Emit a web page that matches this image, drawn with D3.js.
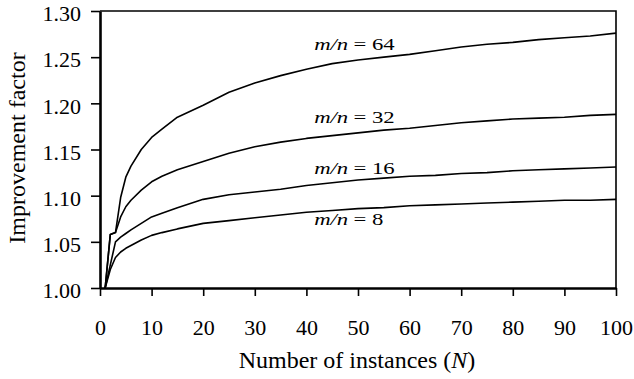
<!DOCTYPE html>
<html>
<head>
<meta charset="utf-8">
<script src="https://cdn.jsdelivr.net/npm/d3@7"></script>
<style>
  body { margin: 0; background: #fff; }
  svg text { fill: #000; }
</style>
</head>
<body>
<svg id="chart"></svg>
<script>
var instances = [1, 2, 3, 4, 5, 6, 8, 10, 12, 15, 20, 25, 30, 35, 40, 45, 50, 55, 60, 65, 70, 75, 80, 85, 90, 95, 100];

var ratios = [64, 32, 16, 8];

var mn64 = [1.000, 1.058, 1.060, 1.098, 1.120, 1.132, 1.150, 1.163, 1.172, 1.185, 1.198, 1.212, 1.222, 1.230, 1.237, 1.243, 1.247, 1.250, 1.253, 1.257, 1.261, 1.264, 1.266, 1.269, 1.271, 1.273, 1.276];
var mn32 = [1.000, 1.058, 1.060, 1.077, 1.088, 1.095, 1.106, 1.115, 1.121, 1.128, 1.137, 1.146, 1.153, 1.158, 1.162, 1.165, 1.168, 1.171, 1.173, 1.176, 1.179, 1.181, 1.183, 1.184, 1.185, 1.187, 1.188];
var mn16 = [1.000, 1.025, 1.050, 1.055, 1.059, 1.063, 1.070, 1.077, 1.081, 1.087, 1.096, 1.101, 1.104, 1.107, 1.111, 1.114, 1.117, 1.119, 1.121, 1.122, 1.124, 1.125, 1.127, 1.128, 1.129, 1.130, 1.131];
var mn8  = [1.000, 1.020, 1.033, 1.039, 1.043, 1.046, 1.052, 1.057, 1.060, 1.064, 1.070, 1.073, 1.076, 1.079, 1.082, 1.084, 1.086, 1.087, 1.089, 1.090, 1.091, 1.092, 1.093, 1.094, 1.095, 1.095, 1.096];

var xTicks = [0, 10, 20, 30, 40, 50, 60, 70, 80, 90, 100];
var yTicks = [1.00, 1.05, 1.10, 1.15, 1.20, 1.25, 1.30];

// where the m/n labels sit, in data units (N, factor at baseline)
var labelN = 41.5;
var labelY = [1.258, 1.179, 1.1235, 1.068];

var series = [mn64, mn32, mn16, mn8];

var serif = "'Liberation Serif', 'LiberationSerif', 'Times New Roman', 'Nimbus Roman', 'Nimbus Roman No9 L', 'FreeSerif', 'Noto Serif', 'DejaVu Serif', 'Tinos', serif";

var margin = {top: 11, left: 100, right: 18, bottom: 91};
var W = 634, H = 379;
var width = W - margin.left - margin.right;
var height = H - margin.top - margin.bottom;

var svg = d3.select("#chart")
	.attr("width", W)
	.attr("height", H);

var g = svg.append("g")
	.attr("transform", `translate(${margin.left},${margin.top})`);

var x = d3.scaleLinear().domain([0, 100]).range([0, width]);
var y = d3.scaleLinear().domain([1.00, 1.30]).range([height, 0]);

// frame on top and right
g.append("path")
	.attr("d", `M0,0H${width}V${height}`)
	.attr("fill", "none")
	.attr("stroke", "#000")
	.attr("stroke-width", 1.6);

var xAxis = g.append("g")
	.attr("transform", `translate(0,${height})`)
	.call(d3.axisBottom(x).tickValues(xTicks).tickSize(8).tickSizeOuter(0).tickPadding(0));
xAxis.select(".domain").attr("stroke-width", 2.6);
xAxis.selectAll(".tick line").attr("stroke-width", 1.6);
xAxis.selectAll(".tick text").remove();
xAxis.selectAll(".tick").append("text")
	.attr("transform", "translate(0,47) scale(1.1,1)")
	.attr("text-anchor", "middle")
	.attr("font-family", serif)
	.attr("font-size", 20)
	.text(d => d);

var yAxis = g.append("g")
	.call(d3.axisLeft(y).tickValues(yTicks).tickSize(9).tickSizeOuter(0));
yAxis.select(".domain").attr("stroke-width", 2.6);
yAxis.selectAll(".tick line").attr("stroke-width", 1.6);
yAxis.selectAll(".tick text").remove();
yAxis.selectAll(".tick").append("text")
	.attr("transform", "translate(-19,9.7) scale(1.1,1)")
	.attr("text-anchor", "end")
	.attr("font-family", serif)
	.attr("font-size", 20)
	.text(d => d3.format(".2f")(d));

var line = d3.line()
	.x((d, i) => x(instances[i]))
	.y(d => y(d));

g.selectAll(".curve")
	.data(series)
	.join("path")
	.attr("class", "curve")
	.attr("fill", "none")
	.attr("stroke", "#000")
	.attr("stroke-width", 1.6)
	.attr("stroke-linejoin", "round")
	.attr("d", line);

var labels = g.selectAll(".lbl")
	.data(ratios)
	.join("text")
	.attr("class", "lbl")
	.attr("transform", (d, i) => `translate(${x(labelN)},${y(labelY[i])}) scale(1.3,1)`)
	.attr("font-family", serif)
	.attr("font-size", 17.5);
labels.append("tspan").attr("font-style", "italic").text("m/n");
labels.append("tspan").attr("dx", 4).text(d => "= " + d);

var xTitle = g.append("text")
	.attr("x", width / 2 - 1)
	.attr("y", height + 80)
	.attr("text-anchor", "middle")
	.attr("font-family", serif)
	.attr("font-size", 24);
xTitle.append("tspan").text("Number of instances (");
xTitle.append("tspan").attr("font-style", "italic").text("N");
xTitle.append("tspan").text(")");

g.append("text")
	.attr("transform", `translate(${25 - margin.left},${148 - margin.top}) rotate(-90)`)
	.attr("text-anchor", "middle")
	.attr("font-family", serif)
	.attr("font-size", 24)
	.text("Improvement factor");
</script>
</body>
</html>
